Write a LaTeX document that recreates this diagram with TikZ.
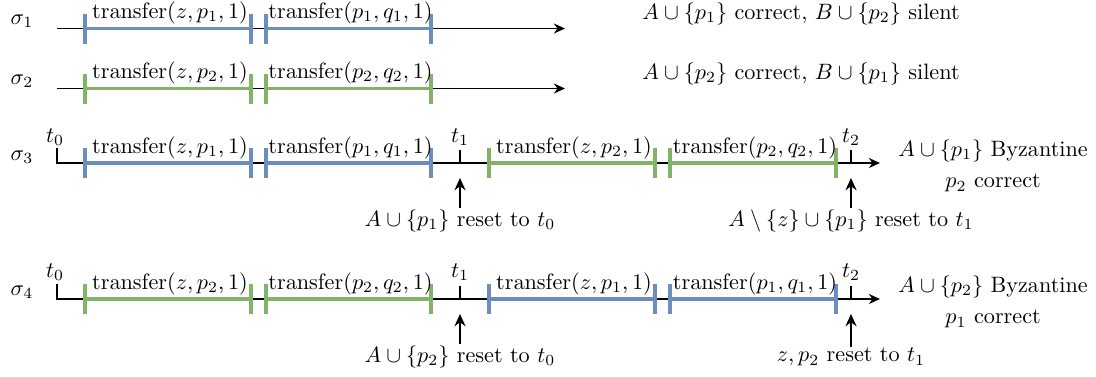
\documentclass[tikz,border=0pt]{standalone}
\usetikzlibrary{arrows.meta}
\definecolor{segblue}{HTML}{6C8EBF}
\definecolor{seggreen}{HTML}{82B366}
\tikzset{
  axis/.style={line width=0.8pt,-{Stealth[length=5pt,width=4.5pt]}},
  tickline/.style={line width=0.8pt},
  segline/.style={line width=1.5pt},
  lab/.style={anchor=base,inner sep=0pt},
  uparrow/.style={line width=0.8pt,-{Stealth[length=5.5pt,width=5pt]}},
  sidetext/.style={anchor=west,inner sep=0pt},
  resetlab/.style={inner sep=0pt},
}
\newcommand{\tseg}[6]{% name, colour, x1, x2, y, args
  \coordinate (#1a) at (#3,{#5});
  \coordinate (#1b) at (#4,{#5});
  \draw[segline,#2] (#1a) -- (#1b);
  \draw[segline,#2] (#3,{#5-15}) -- (#3,{#5+15});
  \draw[segline,#2] (#4,{#5-15}) -- (#4,{#5+15});
  \node[lab] (#1l) at ({(#3+#4)/2+2},{#5-10}) {$\mathrm{transfer}(#6)$};
}
\begin{document}
\begin{tikzpicture}[x=0.45pt,y=-0.45pt]
\useasboundingbox (0,0) rectangle (1096,376);
% ---- row 1
\node (s1) at (22,21) {$\sigma_1$};
\coordinate (r1s) at (57,28.5); \coordinate (r1e) at (565,28.5);
\draw[axis] (r1s) -- (r1e);
\tseg{a1}{segblue}{85}{251}{28.5}{z,p_1,1}
\tseg{a2}{segblue}{266}{431}{28.5}{p_1,q_1,1}
\node[sidetext] (n1) at (642,14) {$A\cup\{p_1\}$ correct, $B\cup\{p_2\}$ silent};
% ---- row 2
\node (s2) at (22,81) {$\sigma_2$};
\coordinate (r2s) at (57,88.5); \coordinate (r2e) at (565,88.5);
\draw[axis] (r2s) -- (r2e);
\tseg{b1}{seggreen}{85}{251}{88.5}{z,p_2,1}
\tseg{b2}{seggreen}{266}{431}{88.5}{p_2,q_2,1}
\node[sidetext] (n2) at (642,74) {$A\cup\{p_2\}$ correct, $B\cup\{p_1\}$ silent};
% ---- row 3
\node (s3) at (22,157) {$\sigma_3$};
\coordinate (r3t) at (57,148); \coordinate (r3s) at (57,163); \coordinate (r3e) at (880,163);
\draw[axis] (r3t) -- (r3s) -- (r3e);
\draw[tickline] (460,150) -- (460,163);
\draw[tickline] (851,150) -- (851,163);
\node (t30) at (55,137) {$t_0$};
\node (t31) at (460,137) {$t_1$};
\node (t32) at (851,137) {$t_2$};
\tseg{c1}{segblue}{85}{251}{163}{z,p_1,1}
\tseg{c2}{segblue}{266}{431}{163}{p_1,q_1,1}
\tseg{c3}{seggreen}{489}{655}{163}{z,p_2,1}
\tseg{c4}{seggreen}{670}{836}{163}{p_2,q_2,1}
\node[resetlab] (u31) at (460,221) {$A\cup\{p_1\}$ reset to $t_0$};
\coordinate (u31t) at (460,178);
\draw[uparrow] (u31.north) ++(0,-1) coordinate (u31b) -- (u31t);
\node[resetlab] (u32) at (851,221) {$A\setminus\{z\}\cup\{p_1\}$ reset to $t_1$};
\coordinate (u32t) at (851,178);
\draw[uparrow] (u32.north) ++(0,-1) coordinate (u32b) -- (u32t);
\node[sidetext,align=center] (n3) at (898,166) {$A\cup\{p_1\}$ Byzantine\\[2pt] $p_2$ correct};
% ---- row 4
\node (s4) at (22,292) {$\sigma_4$};
\coordinate (r4t) at (57,284); \coordinate (r4s) at (57,299); \coordinate (r4e) at (880,299);
\draw[axis] (r4t) -- (r4s) -- (r4e);
\draw[tickline] (460,286) -- (460,299);
\draw[tickline] (851,286) -- (851,299);
\node (t40) at (55,272) {$t_0$};
\node (t41) at (460,272) {$t_1$};
\node (t42) at (851,272) {$t_2$};
\tseg{d1}{seggreen}{85}{251}{299}{z,p_2,1}
\tseg{d2}{seggreen}{266}{431}{299}{p_2,q_2,1}
\tseg{d3}{segblue}{489}{655}{299}{z,p_1,1}
\tseg{d4}{segblue}{670}{836}{299}{p_1,q_1,1}
\node[resetlab] (u41) at (460,357) {$A\cup\{p_2\}$ reset to $t_0$};
\coordinate (u41t) at (460,314);
\draw[uparrow] (u41.north) ++(0,-1) coordinate (u41b) -- (u41t);
\node[resetlab] (u42) at (851,357) {$z,p_2$ reset to $t_1$};
\coordinate (u42t) at (851,314);
\draw[uparrow] (u42.north) ++(0,-1) coordinate (u42b) -- (u42t);
\node[sidetext,align=center] (n4) at (898,302) {$A\cup\{p_2\}$ Byzantine\\[2pt] $p_1$ correct};
\end{tikzpicture}
\end{document}
